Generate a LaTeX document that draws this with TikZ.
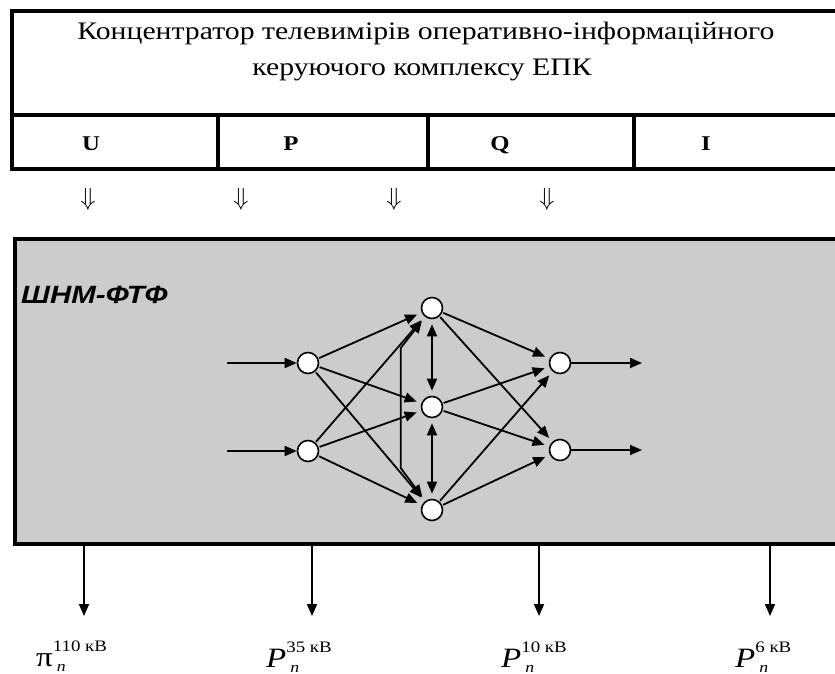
\documentclass[tikz,border=0pt]{standalone}
\usepackage{fontspec}
\setmainfont[FakeStretch=1.18]{Liberation Serif}
\newfontfamily\headsans[FakeStretch=1.18]{Liberation Sans}
\usetikzlibrary{arrows.meta}

\tikzset{
  frame/.style={line width=4pt},
  neuron/.style={circle, draw, line width=1.6pt, fill=white, minimum size=21pt, inner sep=0pt},
  link/.style={line width=1.8pt, -{Triangle[length=12pt,width=10pt]}, shorten >=5pt, shorten <=1pt},
  dlink/.style={line width=1.8pt, {Triangle[length=12pt,width=10pt]}-{Triangle[length=12pt,width=10pt]}, shorten >=5pt, shorten <=5pt},
  outarrow/.style={line width=1.8pt, -{Triangle[length=12pt,width=10pt]}},
  headline/.style={font=\fontsize{25.2}{25.2}\selectfont, anchor=base, inner sep=0pt},
  colname/.style={font=\fontsize{21}{21}\selectfont\bfseries, anchor=base, inner sep=0pt},
  feed/.style={font=\fontsize{33}{33}\selectfont, inner sep=0pt},
  vlabel/.style={anchor=base west, inner sep=0pt, font=\fontsize{28}{28}\selectfont}
}
\newcommand\supsub[2]{#1\rlap{\raisebox{15pt}{\fontsize{16}{16}\selectfont #2}}\raisebox{-5pt}{\fontsize{15}{15}\selectfont\itshape\kern4pt n}}

\begin{document}
\begin{tikzpicture}[x=1pt,y=-1pt]
\useasboundingbox (0,0) rectangle (835,674);
\clip (0,0) rectangle (835,674);

% concentrator table
\draw[frame] (850,11.5) -- (12,11.5) -- (12,169) -- (850,169);
\draw[frame] (12,115) -- (850,115);
\draw[frame] (218,115) -- (218,169);
\draw[frame] (428,115) -- (428,169);
\draw[frame] (634,115) -- (634,169);
\node[headline] (head1) at (426,40) {Концентратор телевимірів оперативно-інформаційного};
\node[headline] (head2) at (422,76) {керуючого комплексу ЕПК};
\node[colname] (cu) at (91,150) {U};
\node[colname] (cp) at (291,150) {P};
\node[colname] (cq) at (500,150) {Q};
\node[colname] (ci) at (706,150) {I};

% measurement feeds
\node[feed] (f1) at (88,199) {$\Downarrow$};
\node[feed] (f2) at (241,199) {$\Downarrow$};
\node[feed] (f3) at (394,199) {$\Downarrow$};
\node[feed] (f4) at (547,199) {$\Downarrow$};

% neural network block
\draw[frame, line width=4.5pt, fill={rgb,255:red,204;green,204;blue,204}] (850,239) -- (15,239) -- (15,544) -- (850,544);
\node[anchor=base west, inner sep=0pt, font=\headsans\fontsize{25}{25}\selectfont\bfseries\itshape] (title) at (21,303) {ШНМ-ФТФ};

\node[neuron] (i1) at (308,363) {};
\node[neuron] (i2) at (308,451) {};
\node[neuron] (h1) at (432,308) {};
\node[neuron] (h2) at (432,407) {};
\node[neuron] (h3) at (432,510) {};
\node[neuron] (o1) at (560,363) {};
\node[neuron] (o2) at (560,450) {};
\coordinate (a1) at (226,363);
\coordinate (a2) at (226,451);
\coordinate (b1) at (642,363);
\coordinate (b2) at (642,450);
\coordinate (kt) at (400.7,348);
\coordinate (kb) at (400.7,468);

\foreach \s in {i1,i2} \foreach \t in {h1,h2,h3} \draw[link] (\s) -- (\t);
\foreach \s in {h1,h2,h3} \foreach \t in {o1,o2} \draw[link] (\s) -- (\t);
\draw[link, shorten >=0pt] (a1) -- (i1);
\draw[link, shorten >=0pt] (a2) -- (i2);
\draw[link, shorten >=0pt, shorten <=0pt] (o1) -- (b1);
\draw[link, shorten >=0pt, shorten <=0pt] (o2) -- (b2);
\draw[dlink] (h1) -- (h2);
\draw[dlink] (h2) -- (h3);
\draw[dlink] (h3) -- (kb) -- (kt) -- (h1);

% outputs to the voltage levels
\draw[outarrow] (84,546) -- (84,616);
\draw[outarrow] (312,546) -- (312,616);
\draw[outarrow] (539,546) -- (539,616);
\draw[outarrow] (770,546) -- (770,616);
\node[vlabel] (l1) at (36,666) {\supsub{π}{110 кВ}};
\node[vlabel] (l2) at (266,667) {\supsub{{\itshape P}}{35 кВ}};
\node[vlabel] (l3) at (501,667) {\supsub{{\itshape P}}{10 кВ}};
\node[vlabel] (l4) at (735,667) {\supsub{{\itshape P}}{6 кВ}};
\end{tikzpicture}
\end{document}
